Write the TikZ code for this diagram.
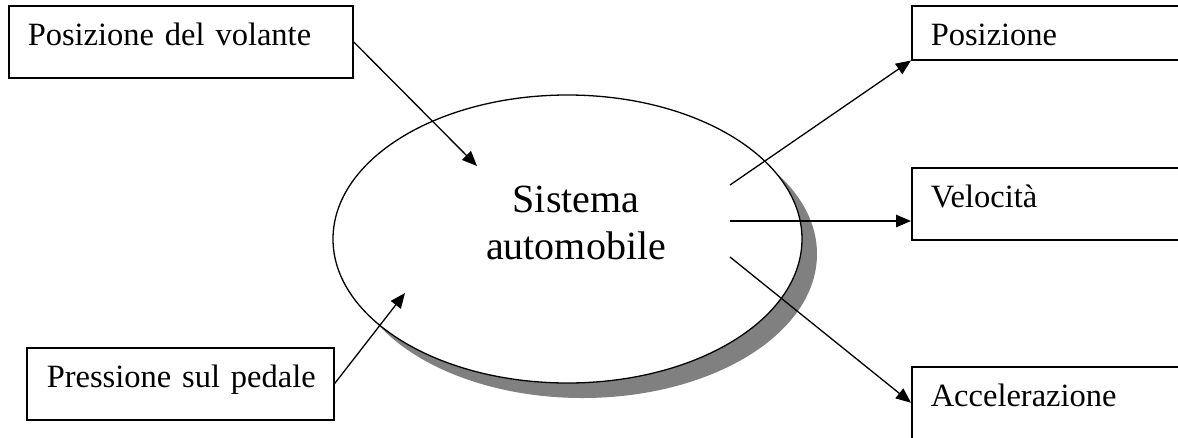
\documentclass[tikz,border=0pt]{standalone}
\usepackage{fontspec}
\setmainfont{Liberation Serif}
\usetikzlibrary{shapes.geometric,arrows.meta,calc}
\definecolor{shadowgray}{RGB}{128,128,128}
\begin{document}
\begin{tikzpicture}[x=1pt,y=-1pt,
  box/.style={draw,line width=1.5pt,anchor=north west,inner xsep=19pt,inner ysep=0pt,
    align=left,font=\fontsize{32.5}{38}\selectfont,text height=40pt},
  conn/.style={line width=1.3pt,-{Triangle[length=15pt,width=12.5pt]}}]
\useasboundingbox (0,0) rectangle (1178,437);
% central system with shadow
\fill[shadowgray] (582.5,254) ellipse [x radius=234.5, y radius=144];
\node[draw,ellipse,fill=white,line width=1.3pt,minimum width=469pt,minimum height=288pt,inner sep=0pt] (sys) at (567.5,239) {};
\node[align=center,font=\fontsize{40}{47}\selectfont] (systxt) at (576,223) {Sistema\\automobile};
% boxes
\node[box,text width=306pt,text depth=32pt] (vol) at (8,5) {\mbox{Posizione del volante}};
\node[box,inner xsep=20pt,text width=267pt,text depth=32pt] (ped) at (26,347) {\mbox{Pressione sul pedale}};
\node[box,text width=262pt,text depth=14pt] (pos) at (911,5) {\mbox{Posizione}};
\node[box,text width=262pt,text depth=32pt] (vel) at (911,167) {\mbox{Velocità}};
\node[box,text width=262pt,text depth=32pt] (acc) at (911,366) {\mbox{Accelerazione}};
% connector ends
\coordinate (volend) at (477,166);
\coordinate (pedend) at (405,293);
\coordinate (o1) at (730,185);
\coordinate (o2) at (730,221);
\coordinate (o3) at (730,257);
% connectors
\draw[conn] (vol.east) -- (volend);
\draw[conn] (ped.east) -- (pedend);
\draw[conn] (o1) -- (pos.south west);
\draw[conn] (o2) -- (o2 -| vel.west);
\draw[conn] (o3) -- (acc.west);
\end{tikzpicture}
\end{document}
